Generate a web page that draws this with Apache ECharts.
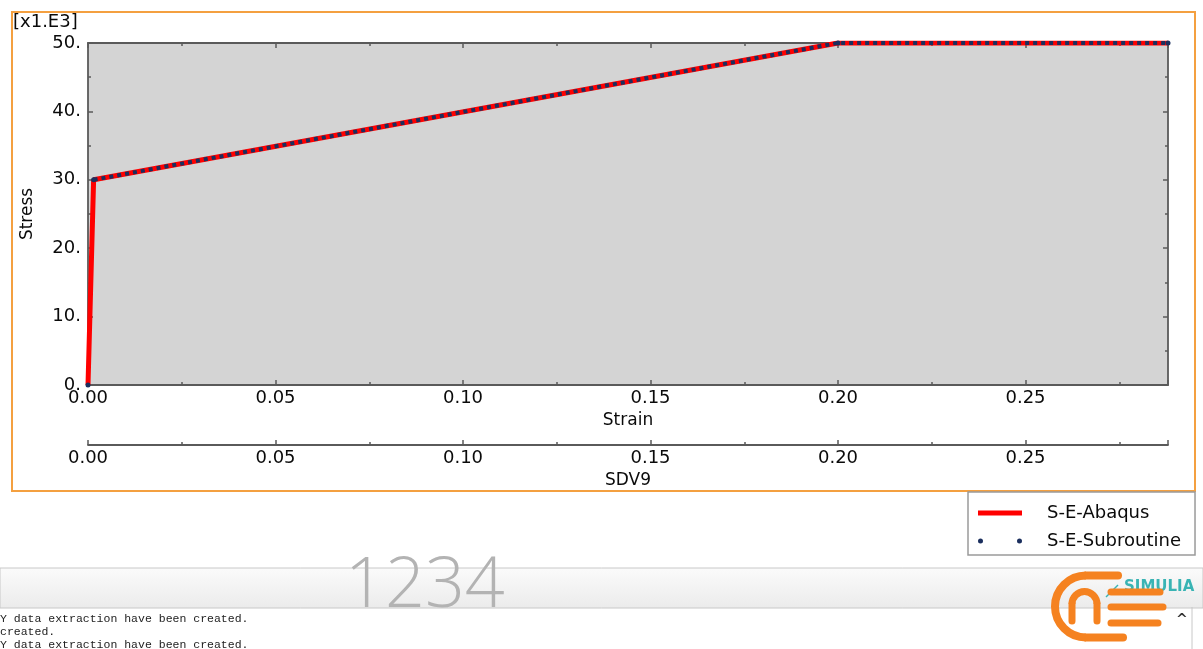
<!DOCTYPE html>
<html>
<head>
<meta charset="utf-8">
<script src="https://cdn.jsdelivr.net/npm/echarts@6/dist/echarts.min.js"></script>
<style>html,body{margin:0;padding:0;background:#fff;}#c{width:1203px;height:649px;}</style>
</head>
<body>
<div id="c"></div>
<script>
// Data
var seriesNames = ['S-E-Abaqus', 'S-E-Subroutine'];
var abaqusStrain = [0, 0.0015, 0.2, 0.288];
var abaqusStress = [0, 30000, 50000, 50000];
var subStrain = [0, null, 0.0015, 0.2, 0.288];
var subStress = [0, null, 30000, 50000, 50000];
var xTickValues = [0, 0.05, 0.1, 0.15, 0.2, 0.25];
var yTickValues = [0, 10, 20, 30, 40, 50];
var consoleLines = ['Y data extraction have been created.', 'created.', 'Y data extraction have been created.'];

function pairs(xs, ys) {
  return xs.map(function (x, i) { return (x === null || ys[i] === null) ? '-' : [x, ys[i]]; });
}

var FONT = 'DejaVu Sans';
var TXT = '#0a0a0a';
var axisColor = '#5a5a5a';
var xMax = 0.288;
var ORANGE = '#f58220';
var NAVY = '#1b2f5e';

function xLabelFmt(v) {
  for (var i = 0; i < xTickValues.length; i++) {
    if (Math.abs(v - xTickValues[i]) < 1e-9) return v.toFixed(2);
  }
  return '';
}
function yLabelFmt(v) {
  var k = Math.round(v / 1000);
  return yTickValues.indexOf(k) >= 0 && Math.abs(v - k * 1000) < 1e-6 ? k + '.' : '';
}

var tickStyle = { show: true, inside: true, length: 5, lineStyle: { color: axisColor, width: 1.5 } };
var minorStyle = { show: true, splitNumber: 2, length: 3, lineStyle: { color: axisColor, width: 1.5 } };
var lineStyleAx = { show: true, onZero: false, lineStyle: { color: axisColor, width: 1.8 } };

function xAxisBase(extra) {
  var base = {
    type: 'value', min: 0, max: xMax, interval: 0.05, gridIndex: 0,
    axisLine: lineStyleAx, axisTick: tickStyle, minorTick: minorStyle,
    splitLine: { show: false }, minorSplitLine: { show: false },
    axisLabel: { show: false }
  };
  for (var k in extra) base[k] = extra[k];
  return base;
}

var chart = echarts.init(document.getElementById('c'), null, { renderer: 'canvas' });
var option = {
  backgroundColor: '#ffffff',
  animation: false,
  grid: {
    left: 88, top: 43, width: 1080, height: 342,
    show: true, backgroundColor: '#d4d4d4', borderWidth: 0, containLabel: false
  },
  xAxis: [
    xAxisBase({
      position: 'bottom', name: 'Strain', nameLocation: 'middle', nameGap: 27,
      nameTextStyle: { fontFamily: FONT, fontSize: 17, color: TXT },
      axisLabel: { show: true, margin: 4, fontFamily: FONT, fontSize: 18, color: TXT, formatter: xLabelFmt, showMaxLabel: false }
    }),
    xAxisBase({
      position: 'bottom', offset: 60, name: 'SDV9', nameLocation: 'middle', nameGap: 27,
      nameTextStyle: { fontFamily: FONT, fontSize: 17, color: TXT },
      axisLabel: { show: true, margin: 4, fontFamily: FONT, fontSize: 18, color: TXT, formatter: xLabelFmt, showMaxLabel: false }
    }),
    xAxisBase({ position: 'top' })
  ],
  yAxis: [
    {
      type: 'value', min: 0, max: 50000, interval: 10000, position: 'left',
      name: 'Stress', nameLocation: 'middle', nameGap: 52, nameRotate: 90,
      nameTextStyle: { fontFamily: FONT, fontSize: 17, color: TXT },
      axisLine: lineStyleAx, axisTick: tickStyle, minorTick: minorStyle,
      splitLine: { show: false },
      axisLabel: { margin: 7, fontFamily: FONT, fontSize: 18, color: TXT, formatter: yLabelFmt }
    },
    {
      type: 'value', min: 0, max: 50000, interval: 10000, position: 'right',
      axisLine: lineStyleAx, axisTick: tickStyle, minorTick: minorStyle,
      splitLine: { show: false },
      axisLabel: { show: false }
    }
  ],
  legend: {
    orient: 'vertical', left: 968, top: 492, width: 227,
    backgroundColor: '#ffffff', borderColor: '#9a9a9a', borderWidth: 1.5, borderRadius: 0,
    padding: [11, 14, 4, 10], itemGap: 8, itemWidth: 44, itemHeight: 5,
    textStyle: { fontFamily: FONT, fontSize: 18, color: TXT, lineHeight: 20, padding: [0, 0, 0, 20] },
    selectedMode: false,
    data: [
      { name: seriesNames[0], icon: 'rect', itemStyle: { color: '#ff0000' } },
      { name: seriesNames[1], icon: 'path://M0,2.5a2.5,2.5 0 1,0 5,0a2.5,2.5 0 1,0 -5,0zM39,2.5a2.5,2.5 0 1,0 5,0a2.5,2.5 0 1,0 -5,0z', itemStyle: { color: NAVY, borderWidth: 0 } }
    ]
  },
  series: [
    {
      name: seriesNames[0], type: 'line', xAxisIndex: 0, yAxisIndex: 0,
      data: pairs(abaqusStrain, abaqusStress),
      showSymbol: false, symbol: 'none', z: 2,
      lineStyle: { color: '#ff0000', width: 5 },
      itemStyle: { color: '#ff0000' }
    },
    {
      name: seriesNames[1], type: 'line', xAxisIndex: 1, yAxisIndex: 0,
      data: pairs(subStrain, subStress), connectNulls: false,
      showSymbol: true, symbol: 'circle', symbolSize: 5, z: 3,
      lineStyle: { color: NAVY, width: 4, type: [4, 4] },
      itemStyle: { color: NAVY, borderWidth: 0 }
    }
  ],
  graphic: [
    { type: 'rect', shape: { x: 12, y: 12, width: 1183, height: 479 }, silent: true, z: -10,
      style: { fill: 'none', stroke: '#f4a040', lineWidth: 2 } },
    { type: 'text', x: 13, y: 13, style: { text: '[x1.E3]', font: '18px "DejaVu Sans"', fill: TXT } },
    // bottom toolbar band
    { type: 'rect', shape: { x: 0, y: 568, width: 1203, height: 40 }, silent: true,
      style: { fill: new echarts.graphic.LinearGradient(0, 0, 0, 1, [{ offset: 0, color: '#fbfbfb' }, { offset: 1, color: '#ebebeb' }]), stroke: '#c8c8c8', lineWidth: 1 } },
    { type: 'text', x: 345, y: 552, style: { text: '1234', font: '300 70px "Open Sans"', fill: '#b3b3b3' } },
    { type: 'text', x: 0, y: 612, style: { text: consoleLines.join('\n'), font: '11.5px "Liberation Mono"', fill: '#222', lineHeight: 13 } },
    { type: 'line', shape: { x1: 1192, y1: 607, x2: 1192, y2: 649 }, style: { stroke: '#c8c8c8', lineWidth: 1 } },
    { type: 'text', x: 1176, y: 613, style: { text: '^', font: 'bold 14px "DejaVu Sans"', fill: '#333' } },
    // logo
    { type: 'text', x: 1124, y: 580, style: { text: 'SIMULIA', font: 'bold 15px "DejaVu Sans"', fill: '#39b4b4' } },
    { type: 'line', shape: { x1: 1106, y1: 597, x2: 1118, y2: 585 }, style: { stroke: '#39b4b4', lineWidth: 1.5 } },
    { type: 'arc', shape: { cx: 1086, cy: 606.5, r: 31, startAngle: Math.PI / 2, endAngle: Math.PI * 1.5, clockwise: true },
      style: { fill: 'none', stroke: ORANGE, lineWidth: 8 } },
    { type: 'line', shape: { x1: 1086, y1: 575.5, x2: 1118, y2: 575.5 }, style: { stroke: ORANGE, lineWidth: 8, lineCap: 'round' } },
    { type: 'line', shape: { x1: 1086, y1: 637.5, x2: 1123, y2: 637.5 }, style: { stroke: ORANGE, lineWidth: 8, lineCap: 'round' } },
    { type: 'arc', shape: { cx: 1084.5, cy: 604, r: 12.5, startAngle: Math.PI, endAngle: Math.PI * 2, clockwise: true },
      style: { fill: 'none', stroke: ORANGE, lineWidth: 7 } },
    { type: 'line', shape: { x1: 1072, y1: 604, x2: 1072, y2: 621 }, style: { stroke: ORANGE, lineWidth: 7, lineCap: 'round' } },
    { type: 'line', shape: { x1: 1097, y1: 604, x2: 1097, y2: 621 }, style: { stroke: ORANGE, lineWidth: 7, lineCap: 'round' } },
    { type: 'line', shape: { x1: 1111, y1: 592, x2: 1160, y2: 592 }, style: { stroke: ORANGE, lineWidth: 7, lineCap: 'round' } },
    { type: 'line', shape: { x1: 1111, y1: 607, x2: 1163, y2: 607 }, style: { stroke: ORANGE, lineWidth: 7, lineCap: 'round' } },
    { type: 'line', shape: { x1: 1111, y1: 623, x2: 1158, y2: 623 }, style: { stroke: ORANGE, lineWidth: 7, lineCap: 'round' } }
  ]
};
chart.setOption(option);
</script>
</body>
</html>
